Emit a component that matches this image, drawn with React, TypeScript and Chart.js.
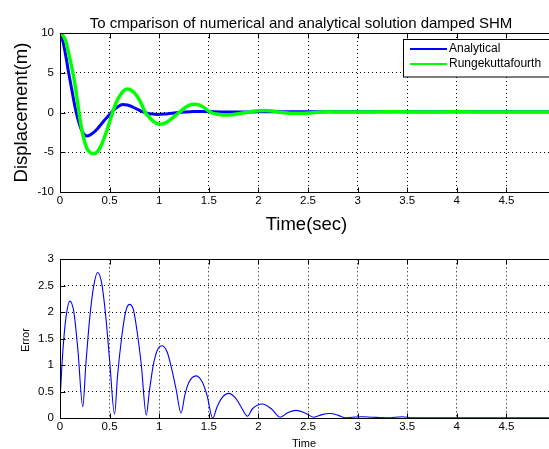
import React, { useEffect, useRef } from "react";
import { Chart, registerables } from "chart.js";

Chart.register(...registerables);

const FONT = "'Liberation Sans', Arial, Helvetica, sans-serif";

const titleText = "To cmparison of numerical and analytical solution damped SHM";
const topYLabel = "Displacement(m)";
const topXLabel = "Time(sec)";
const bottomYLabel = "Error";
const bottomXLabel = "Time";
const legendLabels = ["Analytical", "Rungekuttafourth"];

const xTicks = [0, 0.5, 1, 1.5, 2, 2.5, 3, 3.5, 4, 4.5];
const topYTicks = [-10, -5, 0, 5, 10];
const bottomYTicks = [0, 0.5, 1, 1.5, 2, 2.5, 3];

const anaTime = [0, 0.03, 0.06, 0.09, 0.12, 0.15, 0.18, 0.21, 0.24, 0.27, 0.3, 0.34, 0.38, 0.42, 0.46, 0.5, 0.54, 0.58, 0.63, 0.68, 0.73, 0.78, 0.83, 0.88, 0.93, 0.98, 1.05, 1.15, 1.25, 1.35, 1.45, 1.55, 1.7, 1.85, 2.0, 2.2, 2.4, 2.6, 2.8, 3.0, 3.3, 3.6, 4.0, 4.5, 5.0];
const anaValue = [10, 8.9, 7.0, 4.8, 2.8, 0.8, -0.8, -2.0, -2.7, -2.95, -2.85, -2.5, -2.0, -1.4, -0.8, -0.25, 0.3, 0.7, 1.0, 0.95, 0.7, 0.4, 0.1, -0.1, -0.2, -0.25, -0.2, -0.05, 0.05, 0.12, 0.12, 0.08, 0.05, 0.05, 0.08, 0.08, 0.1, 0.1, 0.1, 0.1, 0.1, 0.1, 0.1, 0.1, 0.1];

const rkTime = [0, 0.03, 0.06, 0.09, 0.12, 0.15, 0.18, 0.21, 0.24, 0.27, 0.3, 0.34, 0.38, 0.42, 0.46, 0.5, 0.54, 0.58, 0.63, 0.68, 0.73, 0.78, 0.82, 0.86, 0.9, 0.95, 1.0, 1.03, 1.08, 1.14, 1.2, 1.26, 1.3, 1.35, 1.4, 1.46, 1.52, 1.58, 1.64, 1.7, 1.78, 1.88, 1.97, 2.06, 2.14, 2.22, 2.32, 2.42, 2.55, 2.7, 2.85, 3.0, 3.3, 3.6, 4.0, 4.5, 5.0];
const rkValue = [10, 9.7, 8.9, 7.3, 5.6, 3.6, 1.0, -1.5, -3.3, -4.5, -5.0, -5.2, -4.9, -4.0, -2.7, -1.2, 0.4, 1.6, 2.6, 2.95, 2.7, 2.0, 1.1, 0.0, -0.6, -1.2, -1.45, -1.45, -1.2, -0.6, 0.0, 0.6, 0.9, 1.05, 0.95, 0.55, 0.0, -0.2, -0.3, -0.3, -0.2, 0.0, 0.2, 0.25, 0.18, 0.02, -0.08, -0.1, -0.02, 0.08, 0.05, 0.05, 0.1, 0.06, 0.08, 0.05, 0.06];

const errorTime = [0, 0.03, 0.06, 0.1, 0.14, 0.18, 0.23, 0.26, 0.3, 0.34, 0.38, 0.42, 0.46, 0.5, 0.55, 0.58, 0.62, 0.66, 0.7, 0.74, 0.78, 0.82, 0.87, 0.9, 0.94, 0.98, 1.03, 1.08, 1.13, 1.17, 1.22, 1.26, 1.3, 1.37, 1.43, 1.48, 1.54, 1.58, 1.63, 1.7, 1.77, 1.83, 1.89, 1.94, 2.04, 2.13, 2.22, 2.3, 2.38, 2.47, 2.56, 2.64, 2.72, 2.8, 2.87, 2.95, 3.05, 3.15, 3.3, 3.45, 3.55, 4.0, 4.5, 5.0];
const errorValue = [0.35, 1.3, 1.9, 2.21, 2.0, 1.3, 0.22, 1.0, 1.9, 2.5, 2.75, 2.55, 1.95, 1.1, 0.08, 0.8, 1.5, 2.0, 2.15, 2.05, 1.6, 1.0, 0.06, 0.5, 1.0, 1.28, 1.37, 1.25, 0.9, 0.55, 0.1, 0.45, 0.68, 0.8, 0.7, 0.45, 0.0, 0.2, 0.38, 0.47, 0.38, 0.2, 0.04, 0.18, 0.27, 0.18, 0.02, 0.11, 0.15, 0.1, 0.02, 0.07, 0.09, 0.06, 0.01, 0.02, 0.03, 0.02, 0.01, 0.03, 0.01, 0.01, 0.01, 0.01];

const BLUE = "#0000ff";
const GREEN = "#00ff00";

const toPoints = (xs: number[], ys: number[]) => xs.map((x, i) => ({ x, y: ys[i] }));

function drawFrame(chart: any) {
  const ctx = chart.ctx;
  const { left, right, top, bottom } = chart.chartArea;
  const xs = chart.scales.x;
  const ys = chart.scales.y;
  const L = Math.round(left) + 0.5;
  const T = Math.round(top) + 0.5;
  const R = Math.round(right) + 0.5;
  const B = Math.round(bottom) + 0.5;
  ctx.save();
  ctx.strokeStyle = "#000";
  ctx.lineWidth = 1;
  ctx.setLineDash([]);
  ctx.beginPath();
  for (const t of xs.ticks) {
    const px = Math.round(xs.getPixelForValue(t.value)) + 0.5;
    ctx.moveTo(px, B);
    ctx.lineTo(px, B - 5);
    ctx.moveTo(px, T);
    ctx.lineTo(px, T + 5);
  }
  for (const t of ys.ticks) {
    const py = Math.round(ys.getPixelForValue(t.value)) + 0.5;
    ctx.moveTo(L, py);
    ctx.lineTo(L + 5, py);
    ctx.moveTo(R, py);
    ctx.lineTo(R - 5, py);
  }
  ctx.stroke();
  ctx.strokeRect(L, T, R - L, B - T);
  ctx.restore();
}

function drawText(ctx: any, text: string, x: number, y: number, size: number, rotate = false, align = "center", baseline = "alphabetic") {
  ctx.save();
  ctx.fillStyle = "#000";
  ctx.font = `${size}px ${FONT}`;
  ctx.textAlign = align;
  ctx.textBaseline = baseline;
  ctx.translate(x, y);
  if (rotate) ctx.rotate(-Math.PI / 2);
  ctx.fillText(text, 0, 0);
  ctx.restore();
}

const topPlugin = {
  id: "topDecor",
  afterDraw(chart: any) {
    const ctx = chart.ctx;
    drawFrame(chart);
    drawText(ctx, titleText, 301, 27.5, 15);
    drawText(ctx, topXLabel, 306.5, 230, 18.5);
    drawText(ctx, topYLabel, 27, 112.5, 18.5, true);
    // legend
    ctx.save();
    ctx.fillStyle = "#fff";
    ctx.strokeStyle = "#000";
    ctx.lineWidth = 1;
    ctx.fillRect(403.5, 39.5, 160, 37.5);
    ctx.strokeRect(403.5, 39.5, 160, 37.5);
    const colors = [BLUE, GREEN];
    const ys = [49, 64];
    for (let i = 0; i < 2; i++) {
      ctx.strokeStyle = colors[i];
      ctx.lineWidth = 2;
      ctx.beginPath();
      ctx.moveTo(410, ys[i]);
      ctx.lineTo(447, ys[i]);
      ctx.stroke();
      drawText(ctx, legendLabels[i], 449, ys[i], 12, false, "left", "middle");
    }
    ctx.restore();
  },
};

const bottomPlugin = {
  id: "bottomDecor",
  afterDraw(chart: any) {
    const ctx = chart.ctx;
    drawFrame(chart);
    drawText(ctx, bottomYLabel, 28.5, 100, 10.5, true);
    drawText(ctx, bottomXLabel, 304, 207.3, 11);
  },
};

function makeScales(yMin: number, yMax: number, yTicks: number[], xHeight: number, xPad: number) {
  const tickFont = { family: FONT, size: 11.5 };
  return {
    x: {
      type: "linear" as const,
      min: 0,
      max: 5,
      afterBuildTicks: (s: any) => {
        s.ticks = xTicks.map((v) => ({ value: v }));
      },
      afterFit: (s: any) => {
        s.height = xHeight;
      },
      grid: { color: "#000", lineWidth: 1, drawTicks: false },
      border: { display: false, dash: [1, 3] },
      ticks: {
        padding: xPad,
        color: "#000",
        font: tickFont,
        maxRotation: 0,
        autoSkip: false,
        callback: (v: any) => String(v),
      },
    },
    y: {
      type: "linear" as const,
      min: yMin,
      max: yMax,
      afterBuildTicks: (s: any) => {
        s.ticks = yTicks.map((v) => ({ value: v }));
      },
      afterFit: (s: any) => {
        s.width = 60;
      },
      grid: { color: "#000", lineWidth: 1, drawTicks: false },
      border: { display: false, dash: [1, 3] },
      ticks: {
        padding: 6,
        color: "#000",
        font: tickFont,
        autoSkip: false,
        callback: (v: any) => String(v),
      },
    },
  };
}

export default function App() {
  const topRef = useRef<HTMLCanvasElement | null>(null);
  const botRef = useRef<HTMLCanvasElement | null>(null);

  useEffect(() => {
    const top = new Chart(topRef.current as HTMLCanvasElement, {
      type: "line",
      data: {
        datasets: [
          {
            label: legendLabels[1],
            data: toPoints(rkTime, rkValue),
            borderColor: GREEN,
            backgroundColor: GREEN,
            borderWidth: 3.5,
            pointRadius: 0,
            cubicInterpolationMode: "monotone",
            order: 0,
          },
          {
            label: legendLabels[0],
            data: toPoints(anaTime, anaValue),
            borderColor: BLUE,
            backgroundColor: BLUE,
            borderWidth: 3,
            pointRadius: 0,
            cubicInterpolationMode: "monotone",
            order: 1,
          },
        ],
      },
      options: {
        animation: false,
        responsive: false,
        devicePixelRatio: 1,
        events: [],
        layout: { padding: { top: 33, left: 0, right: 0, bottom: 0 } },
        plugins: { legend: { display: false }, title: { display: false }, tooltip: { enabled: false } },
        scales: makeScales(-10, 10, topYTicks, 48, 2) as any,
      },
      plugins: [topPlugin],
    });

    const bottom = new Chart(botRef.current as HTMLCanvasElement, {
      type: "line",
      data: {
        datasets: [
          {
            label: bottomYLabel,
            data: toPoints(errorTime, errorValue),
            borderColor: BLUE,
            backgroundColor: BLUE,
            borderWidth: 1.1,
            pointRadius: 0,
            cubicInterpolationMode: "monotone",
          },
        ],
      },
      options: {
        animation: false,
        responsive: false,
        devicePixelRatio: 1,
        events: [],
        layout: { padding: { top: 19.3, left: 0, right: 0, bottom: 0 } },
        plugins: { legend: { display: false }, title: { display: false }, tooltip: { enabled: false } },
        scales: makeScales(0, 3, bottomYTicks, 30.7, 2) as any,
      },
      plugins: [bottomPlugin],
    });

    return () => {
      top.destroy();
      bottom.destroy();
    };
  }, []);

  return (
    <div style={{ position: "absolute", left: 0, top: 0, width: 549, height: 449, overflow: "hidden", background: "#fff" }}>
      <canvas ref={topRef} width={556} height={240} style={{ position: "absolute", left: 0, top: 0, width: 556, height: 240 }} />
      <canvas ref={botRef} width={556} height={209} style={{ position: "absolute", left: 0, top: 240, width: 556, height: 209 }} />
    </div>
  );
}
